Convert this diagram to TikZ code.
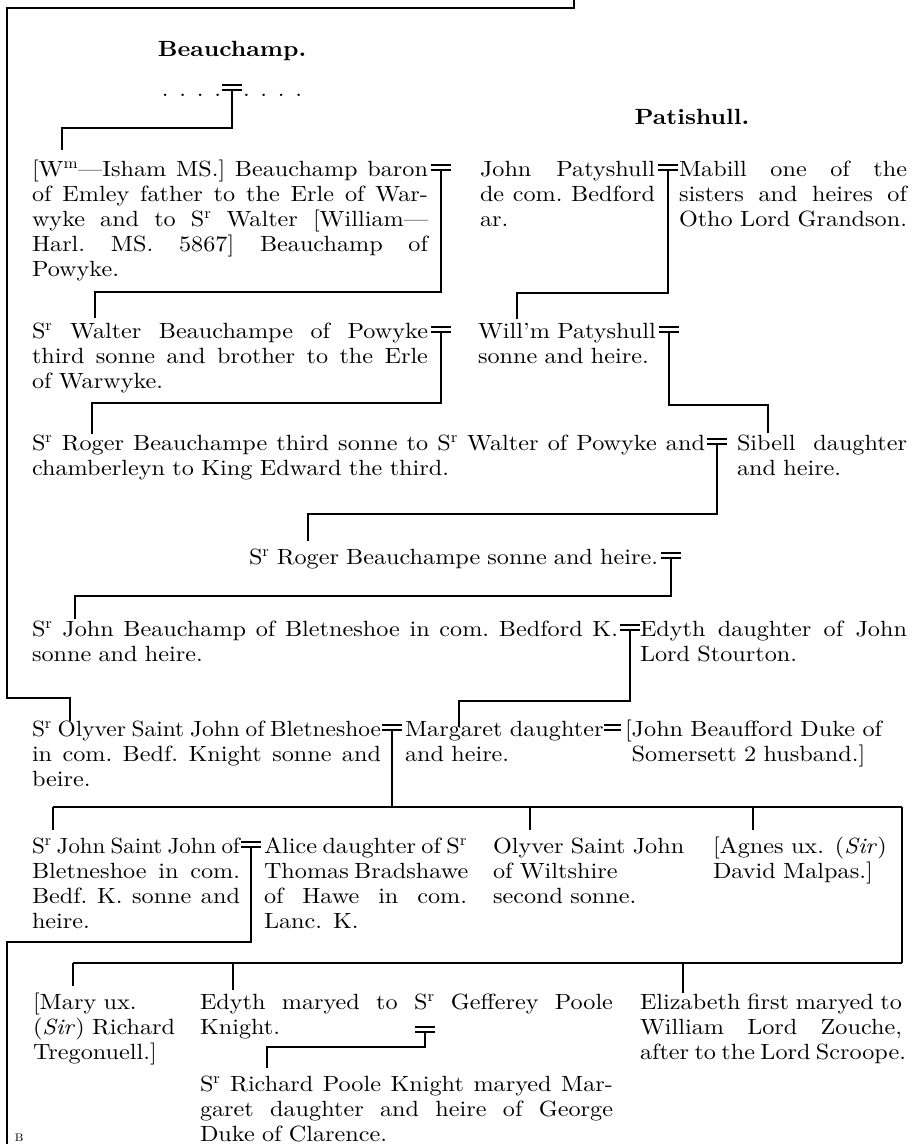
\documentclass[tikz,border=0pt]{standalone}
\usepackage{fontspec}
\usepackage{graphicx}
\setmainfont{lmroman10-regular.otf}[FakeStretch=1.1,ItalicFont=lmroman10-italic.otf,BoldFont=lmroman10-bold.otf]
\newcommand\SR{S\textsuperscript{r}}
\newcommand\jl[1]{\makebox[\hsize][s]{\spaceskip=0pt\xspaceskip=0pt\frenchspacing\relax #1}}
\newcommand\jls[2]{\resizebox{\hsize}{\height}{\spaceskip=#1\relax\xspaceskip=#1\relax\frenchspacing #2}}
\newcommand\wed[2]{\draw[conn] ({#1-10},{#2-11}) -- ({#1+10},{#2-11}) ({#1-10},{#2-6}) -- ({#1+10},{#2-6});}
\begin{document}
\begin{tikzpicture}[x=1pt,y=-1pt,
  every node/.style={inner sep=0pt,outer sep=0pt,font=\fontsize{22}{25}\selectfont},
  blk/.style={anchor=base west,text width=#1,align=left},
  ttl/.style={anchor=base,font=\fontsize{22}{22}\selectfont\bfseries},
  conn/.style={line width=1.3pt}]
\useasboundingbox (0,0) rectangle (912,1144);

% titles
\node[ttl] (tB) at (232,56) {Beauchamp.};
\node[ttl] (tP) at (692,124) {Patishull.};

% outer border line from above
\coordinate (up) at (574,0);
\coordinate (cS) at (70,721);
\draw[conn] (up) -- (574,8) -- (7,8) -- (7,698) -- (70,698) -- (cS);

% top marriage
\node[anchor=base east] (dl) at (221,96) {. . . .};
\node[anchor=base west] (dr) at (243,96) {. . . .};
\wed{232}{96}
\coordinate (w0) at (232,90);
\coordinate (cA) at (62,150);
\draw[conn] (w0) -- (232,128) -- (62,128) -- (cA);

% Beauchamp baron
\node[blk=396pt] (a) at (32,176) {\jl{[W\textsuperscript{m}—Isham MS.] Beauchamp baron}\\
\jl{of Emley father to the Erle of War-}\\
\jl{wyke and to \SR\ Walter [William—}\\
\jl{Harl. MS. 5867] Beauchamp of}\\
Powyke.};
\wed{441}{176}
\coordinate (wA) at (441,170);
\coordinate (cB) at (95,318);
\draw[conn] (wA) -- (441,292) -- (95,292) -- (cB);

% Sr Walter
\node[blk=396pt] (b) at (32,338) {\jl{\SR\ Walter Beauchampe of Powyke}\\
\jl{third sonne and brother to the Erle}\\
of Warwyke.};
\wed{441}{338}
\coordinate (wB) at (441,332);
\coordinate (cC) at (92,434);
\draw[conn] (wB) -- (441,403) -- (92,403) -- (cC);

% John Patyshull = Mabill
\node[blk=175pt] (p1) at (480,176) {\jl{John Patyshull}\\
\jl{de com. Bedford}\\
ar.};
\wed{668}{176}
\node[blk=228pt] (p2) at (679,176) {\jl{Mabill one of the}\\
\jl{sisters and heires of}\\
\jl{Otho Lord Grandson.}};
\coordinate (wP) at (668,170);
\coordinate (cW) at (517,319);
\draw[conn] (wP) -- (668,293) -- (517,293) -- (cW);

% Will'm Patyshull
\node[blk=180pt] (wp) at (478,338) {Will’m Patyshull\\
sonne and heire.};
\wed{669}{338}
\coordinate (wW) at (669,332);
\coordinate (cSi) at (768,433);
\draw[conn] (wW) -- (669,405) -- (768,405) -- (cSi);

% Sr Roger (third sonne) = Sibell
\node[blk=673pt] (c) at (32,450) {\jl{\SR\ Roger Beauchampe third sonne to \SR\ Walter of Powyke and}\\
chamberleyn to King Edward the third.};
\wed{717}{450}
\node[blk=170pt] (s) at (737,450) {\jl{Sibell daughter}\\
and heire.};
\coordinate (wC) at (717,444);
\coordinate (cD) at (308,541);
\draw[conn] (wC) -- (717,514) -- (308,514) -- (cD);

% Sr Roger sonne and heire
\node[anchor=base west] (d) at (249,564) {\makebox[409pt][s]{\spaceskip=0pt\xspaceskip=0pt\relax\SR\ Roger Beauchampe sonne and heire.}};
\wed{671}{564}
\coordinate (wD) at (671,558);
\coordinate (cE) at (75,619);
\draw[conn] (wD) -- (671,596) -- (75,596) -- (cE);

% Sr John Beauchamp = Edyth
\node[blk=586pt] (e) at (32,636) {\jl{\SR\ John Beauchamp of Bletneshoe in com. Bedford K.}\\
sonne and heire.};
\wed{630}{636}
\node[blk=267pt] (ed) at (640,636) {\jl{Edyth daughter of John}\\
Lord Stourton.};
\coordinate (wE) at (630,630);
\coordinate (cM) at (459,727);
\draw[conn] (wE) -- (630,701) -- (459,701) -- (cM);

% Sr Olyver = Margaret = John Beaufford
\node[blk=349pt] (f) at (32,736) {\jls{6pt}{\SR\ Olyver Saint John of Bletneshoe}\\
\jl{in com. Bedf. Knight sonne and}\\
beire.};
\wed{392}{736}
\node[blk=200pt] (m) at (405,736) {Margaret daughter\\
and heire.};
\draw[conn] (604,725) -- (621,725) (604,730) -- (621,730);
\node[blk=280pt] (j) at (625,736) {[John Beaufford Duke of\\
\phantom{[}Somersett 2 husband.]};
\coordinate (wF) at (392,730);
\draw[conn] (wF) -- (392,807);
\coordinate (h8l) at (53,807);
\coordinate (h8r) at (902,807);
\draw[conn] (h8l) -- (h8r);
\coordinate (cG) at (53,830);
\coordinate (cO) at (530,830);
\coordinate (cAg) at (753,830);
\coordinate (h10r) at (902,963);
\draw[conn] (h8l) -- (cG);
\draw[conn] (530,807) -- (cO);
\draw[conn] (753,807) -- (cAg);
\draw[conn] (h8r) -- (h10r);

% Sr John Saint John = Alice
\node[blk=208pt] (g) at (32,853) {\jls{5.5pt}{\SR\ John Saint John of}\\
\jl{Bletneshoe in com.}\\
\jl{Bedf. K. sonne and}\\
heire.};
\wed{251}{853}
\node[blk=203pt] (al) at (264,853) {\jl{Alice daughter of \SR}\\
\jl{Thomas Bradshawe}\\
\jl{of Hawe in com.}\\
Lanc. K.};
\node[blk=200pt] (o) at (493,853) {Olyver Saint John\\
of Wiltshire\\
second sonne.};
\node[blk=195pt] (ag) at (713,853) {[Agnes ux. (\textit{Sir})\\
David Malpas.]};
\coordinate (wG) at (251,847);
\coordinate (down) at (7,1144);
\draw[conn] (wG) -- (251,942) -- (7,942) -- (down);

% children of Sr Olyver (continued)
\coordinate (h10l) at (73,963);
\draw[conn] (h10l) -- (h10r);
\coordinate (cMa) at (73,986);
\coordinate (cEd) at (233,990);
\coordinate (cEl) at (683,993);
\draw[conn] (h10l) -- (cMa);
\draw[conn] (233,963) -- (cEd);
\draw[conn] (683,963) -- (cEl);

\node[blk=160pt] (ma) at (33,1009) {[Mary ux.\\
(\textit{Sir}) Richard\\
Tregonuell.]};
\node[blk=413pt] (edy) at (200,1009) {\jl{Edyth maryed to \SR\ Gefferey Poole}\\
Knight.};
\wed{425}{1038}
\coordinate (wEd) at (425,1032);
\coordinate (cR) at (267,1068);
\draw[conn] (wEd) -- (425,1047) -- (267,1047) -- (cR);
\node[blk=413pt] (r) at (200,1091) {\jl{\SR\ Richard Poole Knight maryed Mar-}\\
\jl{garet daughter and heire of George}\\
Duke of Clarence.};
\node[blk=262pt] (el) at (640,1009) {\jl{Elizabeth first maryed to}\\
\jl{William Lord Zouche,}\\
\jl{after to the Lord Scroope.}};

\node[anchor=base west,font=\fontsize{11}{11}\selectfont] (sig) at (15,1141) {B};
\end{tikzpicture}
\end{document}
